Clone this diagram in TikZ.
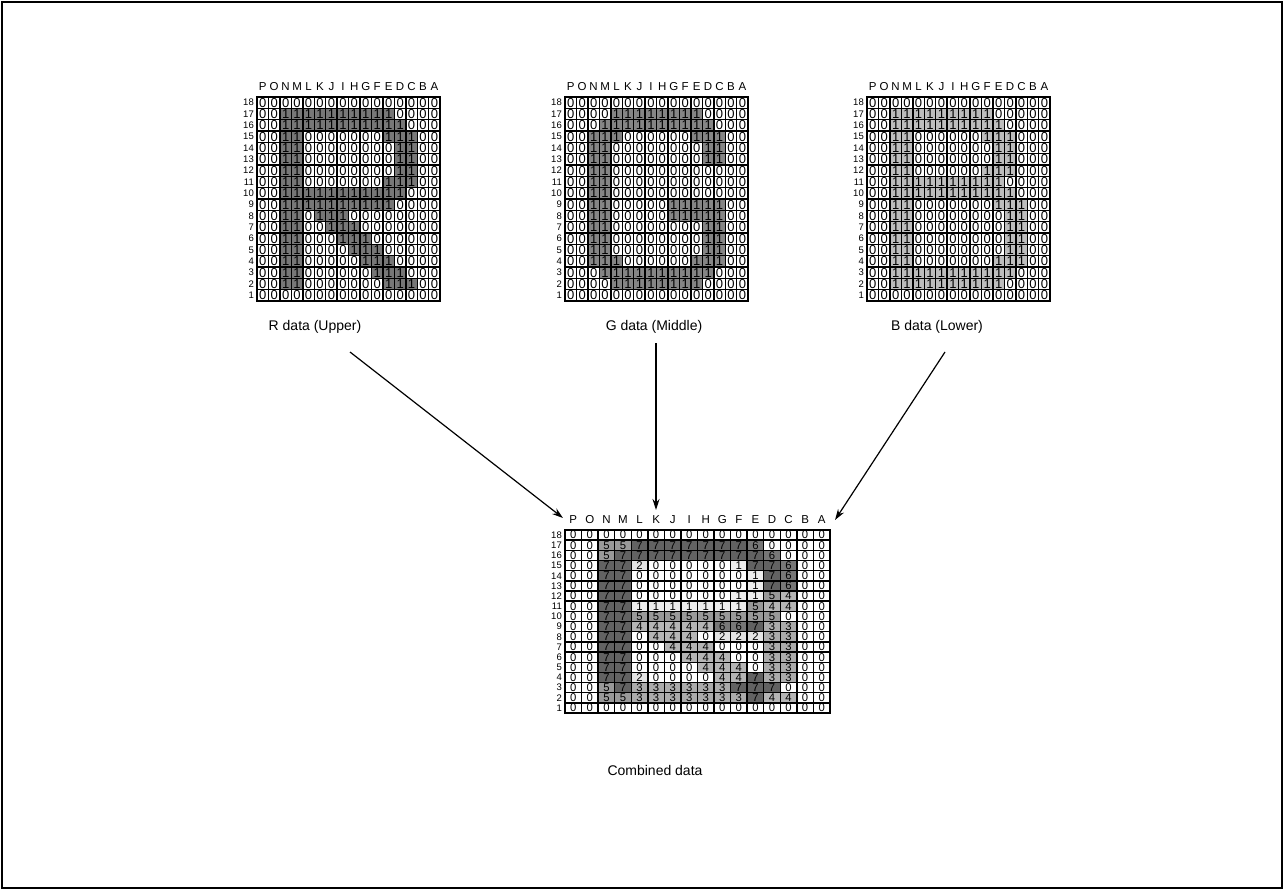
\documentclass[tikz,border=0pt]{standalone}
\usepackage{fontspec}
\setmainfont{Liberation Sans}
\usetikzlibrary{positioning,arrows.meta}
\usepackage{xcolor}
\definecolor{shadeR0}{HTML}{FFFFFF}
\definecolor{shadeR1}{HTML}{777777}
\definecolor{shadeG0}{HTML}{FFFFFF}
\definecolor{shadeG1}{HTML}{858585}
\definecolor{shadeB0}{HTML}{FFFFFF}
\definecolor{shadeB1}{HTML}{BDBDBD}
\definecolor{shadeC0}{HTML}{FFFFFF}
\definecolor{shadeC1}{HTML}{EDEDED}
\definecolor{shadeC2}{HTML}{E3E3E3}
\definecolor{shadeC3}{HTML}{ABABAB}
\definecolor{shadeC4}{HTML}{B5B5B5}
\definecolor{shadeC5}{HTML}{999999}
\definecolor{shadeC6}{HTML}{777777}
\definecolor{shadeC7}{HTML}{626262}

% #1 prefix, #2 x0, #3 y0, #4 cell width, #5 cell height, #6 digit size, #7 rows
\newcommand{\datagrid}[7]{%
  \foreach \l [count=\c] in {P,O,N,M,L,K,J,I,H,G,F,E,D,C,B,A}
    \node[colhead] (#1-h\c) at ({#2+(\c-0.5)*#4},{#3-10}) {\l};
  \foreach \n [count=\r] in {18,17,...,1}
    \node[rowhead] (#1-v\r) at ({#2-3},{#3+(\r-0.5)*#5}) {\n};
  \foreach \row [count=\r] in {#7} {
    \foreach \v [count=\c] in \row {
      \node[cell, minimum width=#4pt, minimum height=#5pt, fill=shade#1\v,
            font=\fontsize{#6}{#6}\selectfont] (#1-\r-\c)
        at ({#2+(\c-0.5)*#4},{#3+(\r-0.5)*#5}) {\v};
    }
  }
  \draw[line width=2.2pt] (#2,#3) rectangle ++({16*#4},{18*#5});
}

\begin{document}
\begin{tikzpicture}[x=1pt, y=-1pt,
    cell/.style={draw, line width=1.4pt, inner sep=0pt},
    colhead/.style={font=\fontsize{11.5}{12}\selectfont, inner sep=0pt},
    rowhead/.style={font=\fontsize{9.5}{10}\selectfont, inner sep=0pt, anchor=east},
    caption/.style={font=\fontsize{14}{16}\selectfont, inner sep=1pt},
    arrow/.style={-{Stealth[length=11pt,width=7pt]}, line width=1.2pt}
  ]
  \useasboundingbox (0,0) rectangle (1284,890);
  \draw[line width=1.5pt] (2,2) rectangle (1282,888);

  % R data
  \datagrid{R}{257}{97}{11.45}{11.33}{13}{
    {0,0,0,0,0,0,0,0,0,0,0,0,0,0,0,0},
    {0,0,1,1,1,1,1,1,1,1,1,1,0,0,0,0},
    {0,0,1,1,1,1,1,1,1,1,1,1,1,0,0,0},
    {0,0,1,1,0,0,0,0,0,0,0,1,1,1,0,0},
    {0,0,1,1,0,0,0,0,0,0,0,0,1,1,0,0},
    {0,0,1,1,0,0,0,0,0,0,0,0,1,1,0,0},
    {0,0,1,1,0,0,0,0,0,0,0,0,1,1,0,0},
    {0,0,1,1,0,0,0,0,0,0,0,1,1,1,0,0},
    {0,0,1,1,1,1,1,1,1,1,1,1,1,0,0,0},
    {0,0,1,1,1,1,1,1,1,1,1,1,0,0,0,0},
    {0,0,1,1,0,1,1,1,0,0,0,0,0,0,0,0},
    {0,0,1,1,0,0,1,1,1,0,0,0,0,0,0,0},
    {0,0,1,1,0,0,0,1,1,1,0,0,0,0,0,0},
    {0,0,1,1,0,0,0,0,1,1,1,0,0,0,0,0},
    {0,0,1,1,0,0,0,0,0,1,1,1,0,0,0,0},
    {0,0,1,1,0,0,0,0,0,0,1,1,1,0,0,0},
    {0,0,1,1,0,0,0,0,0,0,0,1,1,1,0,0},
    {0,0,0,0,0,0,0,0,0,0,0,0,0,0,0,0}}
  % G data
  \datagrid{G}{565}{97}{11.45}{11.33}{13}{
    {0,0,0,0,0,0,0,0,0,0,0,0,0,0,0,0},
    {0,0,0,0,1,1,1,1,1,1,1,1,0,0,0,0},
    {0,0,0,1,1,1,1,1,1,1,1,1,1,0,0,0},
    {0,0,1,1,1,0,0,0,0,0,0,1,1,1,0,0},
    {0,0,1,1,0,0,0,0,0,0,0,0,1,1,0,0},
    {0,0,1,1,0,0,0,0,0,0,0,0,1,1,0,0},
    {0,0,1,1,0,0,0,0,0,0,0,0,0,0,0,0},
    {0,0,1,1,0,0,0,0,0,0,0,0,0,0,0,0},
    {0,0,1,1,0,0,0,0,0,0,0,0,0,0,0,0},
    {0,0,1,1,0,0,0,0,0,1,1,1,1,1,0,0},
    {0,0,1,1,0,0,0,0,0,1,1,1,1,1,0,0},
    {0,0,1,1,0,0,0,0,0,0,0,0,1,1,0,0},
    {0,0,1,1,0,0,0,0,0,0,0,0,1,1,0,0},
    {0,0,1,1,0,0,0,0,0,0,0,0,1,1,0,0},
    {0,0,1,1,1,0,0,0,0,0,0,1,1,1,0,0},
    {0,0,0,1,1,1,1,1,1,1,1,1,1,0,0,0},
    {0,0,0,0,1,1,1,1,1,1,1,1,0,0,0,0},
    {0,0,0,0,0,0,0,0,0,0,0,0,0,0,0,0}}
  % B data
  \datagrid{B}{867}{97}{11.45}{11.33}{13}{
    {0,0,0,0,0,0,0,0,0,0,0,0,0,0,0,0},
    {0,0,1,1,1,1,1,1,1,1,1,0,0,0,0,0},
    {0,0,1,1,1,1,1,1,1,1,1,1,0,0,0,0},
    {0,0,1,1,0,0,0,0,0,0,1,1,1,0,0,0},
    {0,0,1,1,0,0,0,0,0,0,0,1,1,0,0,0},
    {0,0,1,1,0,0,0,0,0,0,0,1,1,0,0,0},
    {0,0,1,1,0,0,0,0,0,0,1,1,1,0,0,0},
    {0,0,1,1,1,1,1,1,1,1,1,1,0,0,0,0},
    {0,0,1,1,1,1,1,1,1,1,1,1,1,0,0,0},
    {0,0,1,1,0,0,0,0,0,0,0,1,1,1,0,0},
    {0,0,1,1,0,0,0,0,0,0,0,0,1,1,0,0},
    {0,0,1,1,0,0,0,0,0,0,0,0,1,1,0,0},
    {0,0,1,1,0,0,0,0,0,0,0,0,1,1,0,0},
    {0,0,1,1,0,0,0,0,0,0,0,0,1,1,0,0},
    {0,0,1,1,0,0,0,0,0,0,0,1,1,1,0,0},
    {0,0,1,1,1,1,1,1,1,1,1,1,1,0,0,0},
    {0,0,1,1,1,1,1,1,1,1,1,1,0,0,0,0},
    {0,0,0,0,0,0,0,0,0,0,0,0,0,0,0,0}}
  % Combined data
  \datagrid{C}{565}{530}{16.56}{10.17}{11.3}{
    {0,0,0,0,0,0,0,0,0,0,0,0,0,0,0,0},
    {0,0,5,5,7,7,7,7,7,7,7,6,0,0,0,0},
    {0,0,5,7,7,7,7,7,7,7,7,7,6,0,0,0},
    {0,0,7,7,2,0,0,0,0,0,1,7,7,6,0,0},
    {0,0,7,7,0,0,0,0,0,0,0,1,7,6,0,0},
    {0,0,7,7,0,0,0,0,0,0,0,1,7,6,0,0},
    {0,0,7,7,0,0,0,0,0,0,1,1,5,4,0,0},
    {0,0,7,7,1,1,1,1,1,1,1,5,4,4,0,0},
    {0,0,7,7,5,5,5,5,5,5,5,5,5,0,0,0},
    {0,0,7,7,4,4,4,4,4,6,6,7,3,3,0,0},
    {0,0,7,7,0,4,4,4,0,2,2,2,3,3,0,0},
    {0,0,7,7,0,0,4,4,4,0,0,0,3,3,0,0},
    {0,0,7,7,0,0,0,4,4,4,0,0,3,3,0,0},
    {0,0,7,7,0,0,0,0,4,4,4,0,3,3,0,0},
    {0,0,7,7,2,0,0,0,0,4,4,7,3,3,0,0},
    {0,0,5,7,3,3,3,3,3,3,7,7,7,0,0,0},
    {0,0,5,5,3,3,3,3,3,3,3,7,4,4,0,0},
    {0,0,0,0,0,0,0,0,0,0,0,0,0,0,0,0}}

  \node[caption] (Rcap) at (315,327) {R data (Upper)};
  \node[caption] (Gcap) at (654,327) {G data (Middle)};
  \node[caption] (Bcap) at (937,327) {B data (Lower)};
  \node[caption] (Ccap) at (655,770) {Combined data};

  \coordinate (Rtail) at (350,352);
  \coordinate (Gtail) at (656,343);
  \coordinate (Btail) at (945,352);
  \coordinate (Rhead) at (563,518);
  \coordinate (Ghead) at (656,510);
  \coordinate (Bhead) at (835,520);
  \draw[arrow] (Rtail) -- (Rhead);
  \draw[arrow] (Gtail) -- (Ghead);
  \draw[arrow] (Btail) -- (Bhead);
\end{tikzpicture}
\end{document}
